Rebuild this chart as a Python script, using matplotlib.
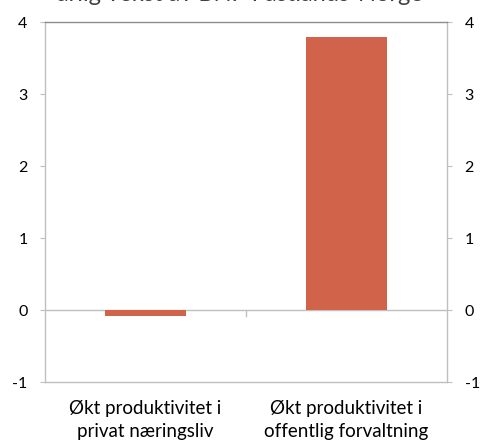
import matplotlib
matplotlib.use('Agg')
import matplotlib.pyplot as plt

plt.rcParams['font.family'] = ['Lato', 'DejaVu Sans']

categories = ['Økt produktivitet i\nprivat næringsliv', 'Økt produktivitet i\noffentlig forvaltning']
values = [-0.08, 3.79]
yticks = [-1, 0, 1, 2, 3, 4]
title = 'årlig vekst av BNP Fastlands-Norge'

fig = plt.figure(figsize=(4.8, 4.4), dpi=100)
ax = fig.add_axes([45 / 480, 58 / 440, 402 / 480, 360 / 440])

x = list(range(len(categories)))
ax.bar(x, values, width=0.4, color='#D0634A', zorder=3)
ax.axhline(0, color='#BFBFBF', linewidth=1, zorder=2)

ax.set_xlim(-0.5, 1.5)
ax.set_ylim(-1, 4)
ax.set_yticks(yticks)
ax.set_yticklabels([str(t) for t in yticks])
ax.tick_params(axis='y', which='both', length=3.6, color='#BFBFBF', labelsize=11.5,
               left=True, right=True, labelleft=True, labelright=True, pad=9)

# category labels without ticks, separator tick at zero line
ax.set_xticks(x)
ax.set_xticklabels(categories, fontsize=13.5, linespacing=1.45)
ax.tick_params(axis='x', length=0, pad=13)
ax.plot([0.5, 0.5], [0, -0.08], color='#BFBFBF', linewidth=1, zorder=2)

for s in ax.spines.values():
    s.set_color('#BFBFBF')
    s.set_linewidth(1)
ax.spines['top'].set_color('#8C8C8C')

fig.text(0.5, (440 - 1) / 440, title, ha='center', va='baseline', fontsize=17, color='#404040')

fig.savefig('out.png', dpi=100)
